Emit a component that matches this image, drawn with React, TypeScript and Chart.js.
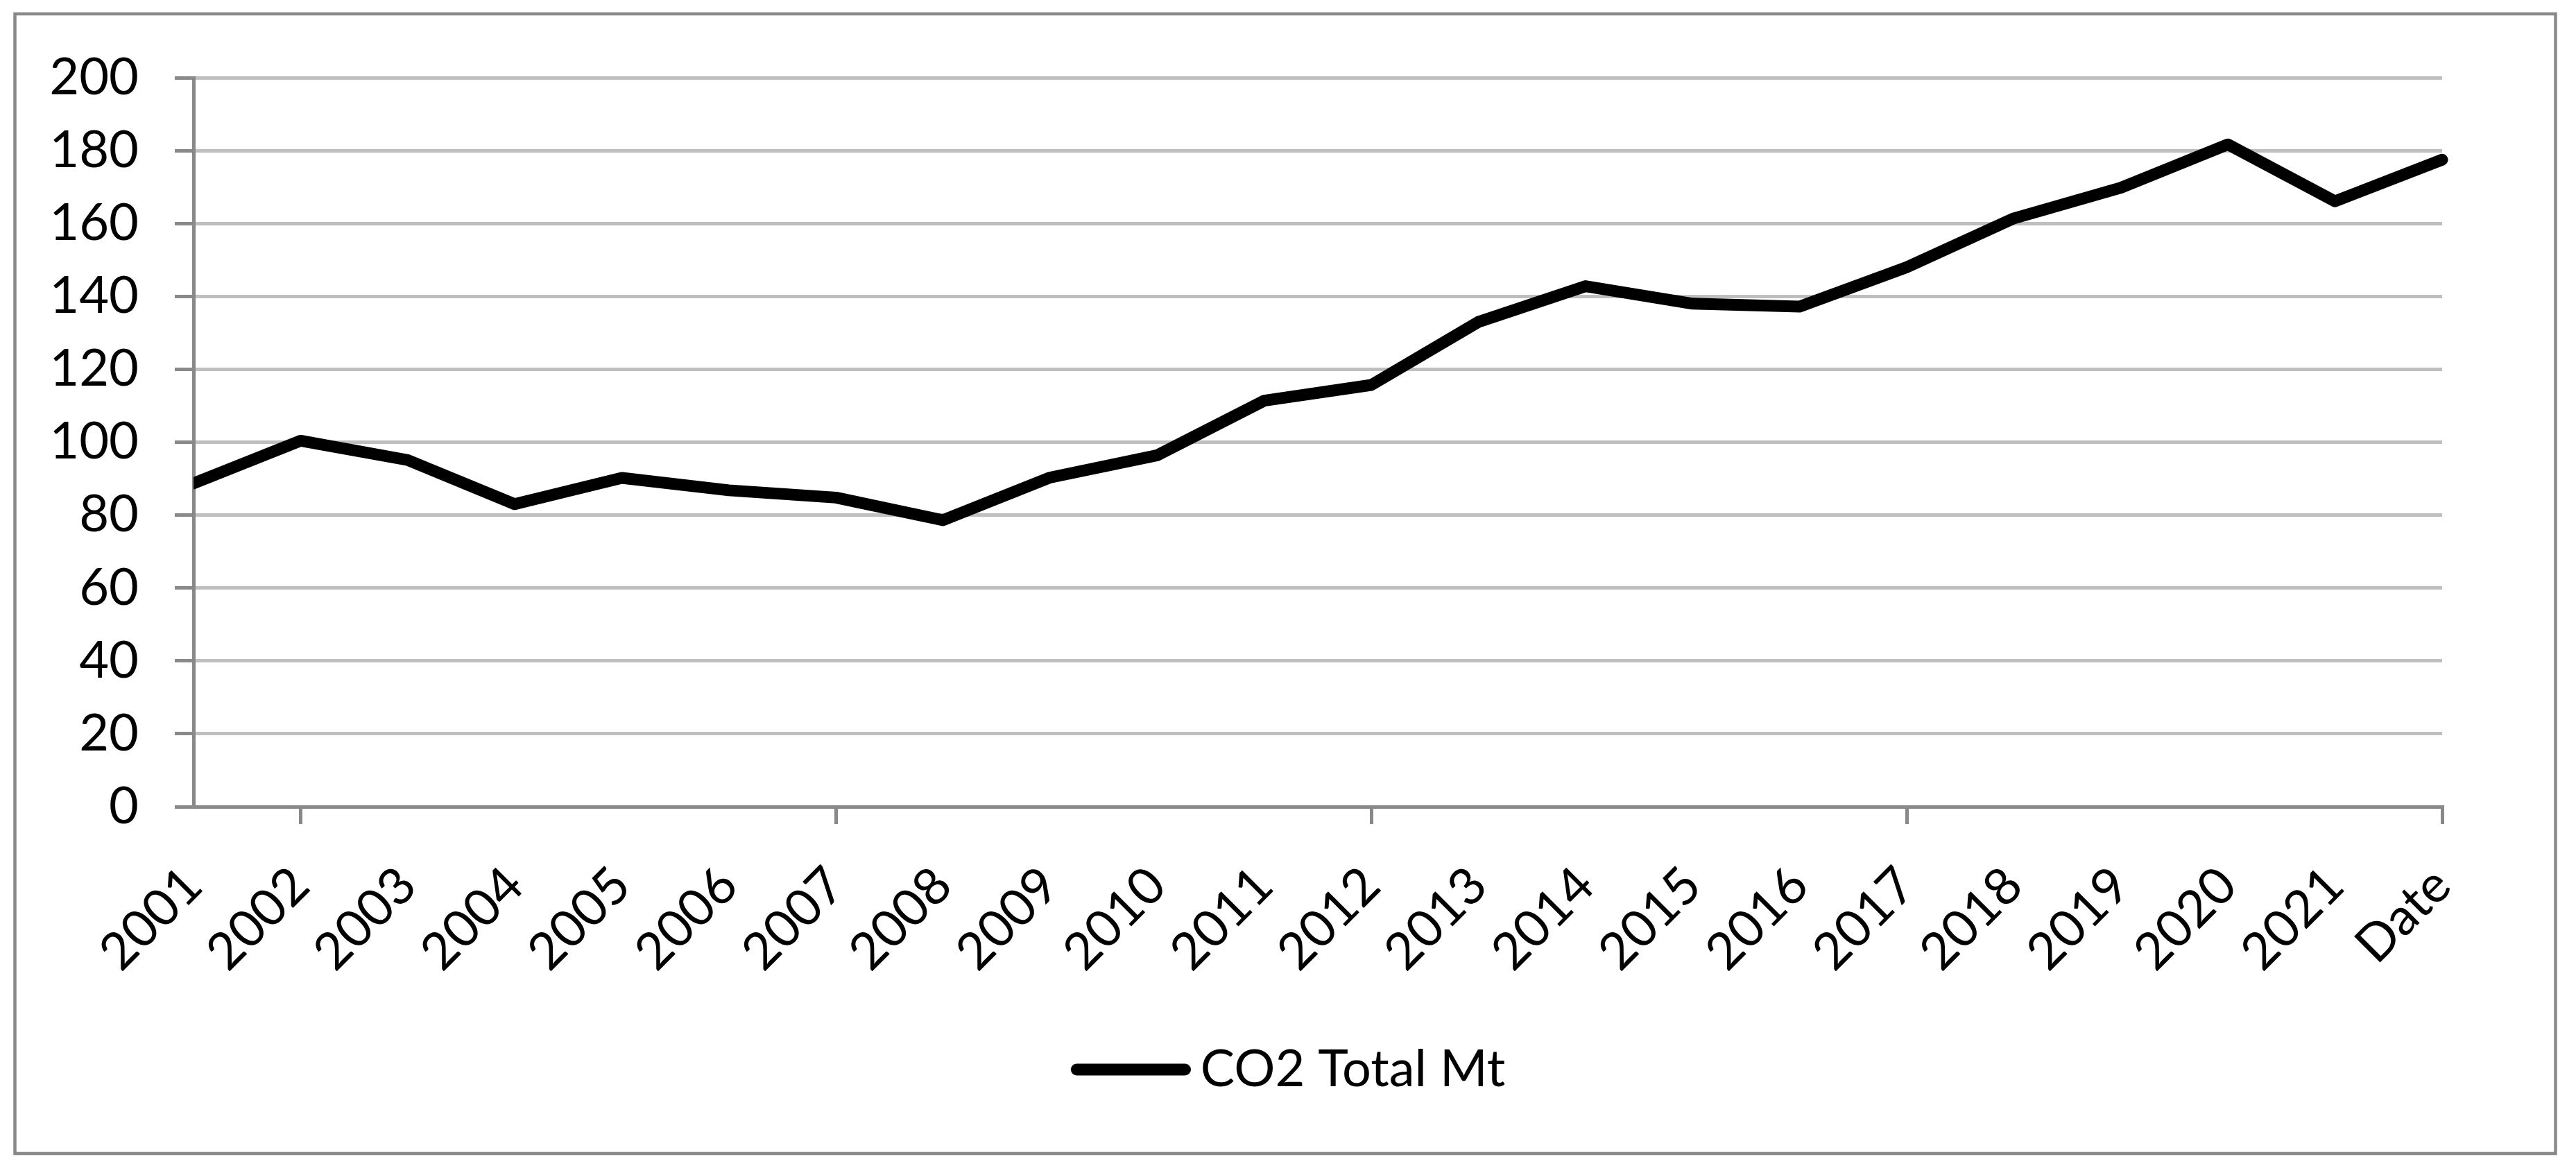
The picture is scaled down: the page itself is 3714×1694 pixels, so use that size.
import React, { useEffect, useRef } from 'react';
import { Chart, registerables } from 'chart.js';

Chart.register(...registerables);

const categories: string[] = [
  '2001', '2002', '2003', '2004', '2005', '2006', '2007', '2008', '2009', '2010', '2011',
  '2012', '2013', '2014', '2015', '2016', '2017', '2018', '2019', '2020', '2021', 'Date',
];

const co2TotalMt: number[] = [
  88.7, 100.4, 95.1, 83.0, 90.2, 86.8, 84.8, 78.6, 90.3, 96.4, 111.4,
  115.7, 133.0, 142.8, 138.0, 137.2, 148.0, 161.4, 169.8, 181.7, 166.1, 177.5,
];

const seriesLabel = 'CO2 Total Mt';
const yMin = 0;
const yMax = 200;
const yStep = 20;
const majorTickCategories: string[] = ['2002', '2007', '2012', '2017', 'Date'];

const FONT = 'Lato';
const AXIS_GREY = '#898989';
const GRID_GREY = '#bfbfbf';

const framePlugin = {
  id: 'frame',
  beforeDraw(chart: any) {
    const ctx = chart.ctx;
    ctx.save();
    ctx.fillStyle = '#ffffff';
    ctx.fillRect(0, 0, chart.width, chart.height);
    ctx.strokeStyle = AXIS_GREY;
    ctx.lineWidth = 4.5;
    ctx.strokeRect(21.5, 20, 3663, 1643);
    ctx.restore();
  },
};

function makeLegendLine(): HTMLCanvasElement {
  // legend marker: a thick rounded line, drawn offset so it sits close to the text
  const c = document.createElement('canvas');
  c.width = 196;
  c.height = 20;
  const g = c.getContext('2d')!;
  g.strokeStyle = '#000000';
  g.lineWidth = 17;
  g.lineCap = 'round';
  g.beginPath();
  g.moveTo(23 + 8.5, 10);
  g.lineTo(196 - 8.5, 10);
  g.stroke();
  return c;
}

export default function App() {
  const canvasRef = useRef<HTMLCanvasElement | null>(null);

  useEffect(() => {
    if (!canvasRef.current) return;
    const majorColor = (c: any) =>
      majorTickCategories.includes(categories[c.index]) ? AXIS_GREY : 'rgba(0,0,0,0)';
    const legendLine = makeLegendLine();

    const chart = new Chart(canvasRef.current, {
      type: 'line',
      data: {
        labels: categories,
        datasets: [
          {
            label: seriesLabel,
            data: co2TotalMt,
            borderColor: '#000000',
            backgroundColor: '#000000',
            borderWidth: 17,
            borderCapStyle: 'round',
            borderJoinStyle: 'round',
            pointRadius: 0,
            pointHoverRadius: 0,
            tension: 0,
            fill: false,
            clip: { left: 0, top: 12, right: 12, bottom: 12 } as any,
          },
        ],
      },
      plugins: [framePlugin],
      options: {
        animation: false,
        responsive: true,
        maintainAspectRatio: false,
        devicePixelRatio: 1,
        layout: { padding: { left: 20, right: 20, top: 112, bottom: 105 } },
        plugins: {
          tooltip: { enabled: false },
          title: { display: false },
          legend: {
            display: true,
            position: 'bottom',
            labels: {
              usePointStyle: true,
              pointStyle: legendLine,
              pointStyleWidth: 150,
              color: '#000000',
              padding: 10,
              font: { family: FONT, size: 74 },
            },
          },
        },
        scales: {
          x: {
            type: 'category',
            offset: false,
            afterFit: (s: any) => {
              s.height = 332;
            },
            grid: {
              display: true,
              drawOnChartArea: false,
              drawTicks: true,
              tickLength: 25,
              lineWidth: 5,
              color: majorColor,
              tickColor: majorColor,
            },
            border: { display: true, color: AXIS_GREY, width: 5 },
            ticks: {
              autoSkip: false,
              maxRotation: 45,
              minRotation: 45,
              padding: 45,
              color: '#000000',
              font: { family: FONT, size: 74 },
            },
          },
          y: {
            position: 'left',
            min: yMin,
            max: yMax,
            afterFit: (s: any) => {
              s.width = 259;
            },
            grid: {
              display: true,
              color: GRID_GREY,
              lineWidth: 5,
              drawTicks: true,
              tickLength: 27,
              tickColor: AXIS_GREY,
            },
            border: { display: true, color: AXIS_GREY, width: 5 },
            ticks: {
              stepSize: yStep,
              padding: 52,
              color: '#000000',
              font: { family: FONT, size: 74 },
            },
          },
          ySpacer: {
            type: 'linear',
            position: 'right',
            display: true,
            afterFit: (s: any) => {
              s.width = 173;
            },
            grid: { display: false, drawTicks: false },
            border: { display: false },
            ticks: { display: false },
          },
        },
      },
    } as any);

    return () => {
      chart.destroy();
    };
  }, []);

  return (
    <div style={{ position: 'fixed', left: 0, top: 0, width: 3714, height: 1694, background: '#fff' }}>
      <canvas ref={canvasRef} />
    </div>
  );
}
